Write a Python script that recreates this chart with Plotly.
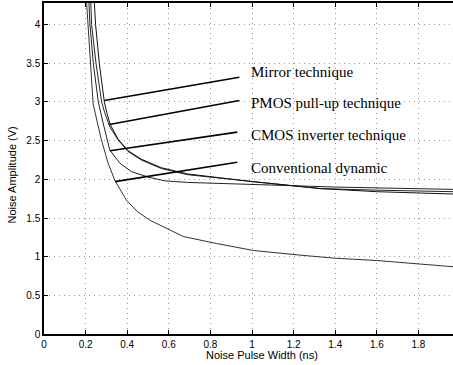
import plotly.graph_objects as go

# Curves (x in ns, y in V)
conv_x = [0.205, 0.212, 0.226, 0.236, 0.255, 0.276, 0.308, 0.340, 0.396, 0.45, 0.51, 0.606, 0.67, 0.83, 1.006, 1.23, 1.4, 1.6, 1.8, 1.966]
conv_y = [4.28, 4.0, 3.5, 2.98, 2.75, 2.51, 2.21, 1.99, 1.73, 1.58, 1.47, 1.345, 1.26, 1.17, 1.08, 1.02, 0.98, 0.95, 0.91, 0.87]

cmos_x = [0.216, 0.221, 0.237, 0.252, 0.261, 0.284, 0.316, 0.364, 0.42, 0.5, 0.58, 0.69, 1.0, 1.4, 1.966]
cmos_y = [4.28, 4.0, 3.5, 3.16, 3.0, 2.73, 2.38, 2.21, 2.10, 2.03, 1.98, 1.96, 1.93, 1.90, 1.87]

pmos_x = [0.225, 0.229, 0.25, 0.268, 0.277, 0.292, 0.316, 0.356, 0.404, 0.468, 0.564, 0.69, 1.0, 1.33, 1.6, 1.966]
pmos_y = [4.28, 4.0, 3.5, 3.16, 3.0, 2.86, 2.68, 2.51, 2.36, 2.25, 2.14, 2.06, 1.97, 1.88, 1.86, 1.84]

mirr_x = [0.242, 0.248, 0.266, 0.29, 0.303, 0.318, 0.356, 0.404, 0.468, 0.564, 0.69, 1.0, 1.33, 1.6, 1.966]
mirr_y = [4.28, 4.0, 3.5, 3.0, 2.85, 2.71, 2.52, 2.37, 2.26, 2.15, 2.07, 1.97, 1.88, 1.84, 1.81]

# Label leader lines: start on curve, end near text
labels = ["Mirror technique", "PMOS pull-up technique", "CMOS inverter technique", "Conventional dynamic"]
lead_x0 = [0.29, 0.314, 0.317, 0.341]
lead_y0 = [3.02, 2.71, 2.37, 1.97]
lead_x1 = [0.939, 0.939, 0.929, 0.929]
lead_y1 = [3.32, 3.02, 2.61, 2.22]
label_x = [0.983, 0.983, 0.983, 0.983]
label_y = [3.39, 2.99, 2.57, 2.15]

x_ticks = [0, 0.2, 0.4, 0.6, 0.8, 1, 1.2, 1.4, 1.6, 1.8]
x_ticktext = ["0", "0.2", "0.4", "0.6", "0.8", "1", "1.2", "1.4", "1.6", "1.8"]
y_ticks = [0, 0.5, 1, 1.5, 2, 2.5, 3, 3.5, 4]
y_ticktext = ["0", "0.5", "1", "1.5", "2", "2.5", "3", "3.5", "4"]

fig = go.Figure()
for xs, ys, col in [(conv_x, conv_y, "#333333"), (cmos_x, cmos_y, "#222222"),
                    (pmos_x, pmos_y, "#222222"), (mirr_x, mirr_y, "#111111")]:
    fig.add_trace(go.Scatter(x=xs, y=ys, mode="lines", line=dict(color=col, width=1),
                             showlegend=False, hoverinfo="skip"))

for i in range(len(labels)):
    fig.add_trace(go.Scatter(x=[lead_x0[i], lead_x1[i]], y=[lead_y0[i], lead_y1[i]], mode="lines",
                             line=dict(color="black", width=1.6), showlegend=False, hoverinfo="skip"))
    fig.add_annotation(x=label_x[i], y=label_y[i], text=labels[i], showarrow=False,
                       xanchor="left", yanchor="middle",
                       font=dict(family="Liberation Serif", size=15, color="black"))

fig.add_annotation(x=1.048, y=0, yref="paper", yshift=-21, text="Noise Pulse Width (ns)", showarrow=False,
                   xanchor="center", yanchor="middle",
                   font=dict(family="Liberation Sans", size=11, color="black"))
fig.add_annotation(xref="paper", x=0, xshift=-32, y=2.05, text="Noise Amplitude (V)", showarrow=False,
                   textangle=-90, xanchor="center", yanchor="middle",
                   font=dict(family="Liberation Sans", size=11, color="black"))

fig.update_layout(
    width=453, height=365,
    margin=dict(l=44, r=0, t=3, b=31),
    paper_bgcolor="white", plot_bgcolor="white",
    font=dict(family="Liberation Sans", size=10, color="black"),
    xaxis=dict(range=[0, 1.966], tickvals=x_ticks, ticktext=x_ticktext,
               showgrid=True, gridcolor="#999999", griddash="1px,4px", gridwidth=1,
               showline=True, linecolor="black", linewidth=1.5, mirror="ticks",
               ticks="inside", ticklen=4, tickcolor="black", zeroline=False),
    yaxis=dict(range=[0, 4.28], tickvals=y_ticks, ticktext=y_ticktext,
               showgrid=True, gridcolor="#999999", griddash="1px,4px", gridwidth=1,
               showline=True, linecolor="black", linewidth=1.5,
               ticks="inside", ticklen=4, tickcolor="black", zeroline=False),
)

fig.write_html("out.html", config={"displayModeBar": False},
               post_script="document.body.style.margin='0';")
